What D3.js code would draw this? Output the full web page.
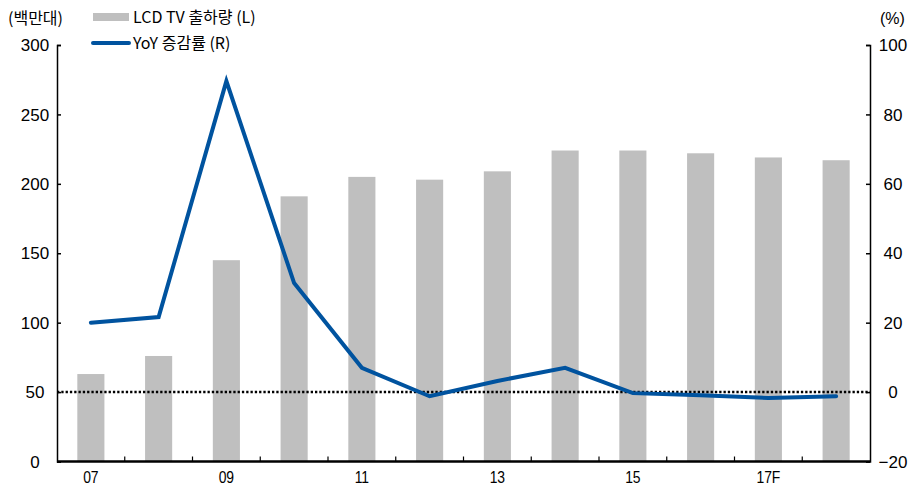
<!DOCTYPE html>
<html>
<head>
<meta charset="utf-8">
<script src="https://cdn.jsdelivr.net/npm/d3@7"></script>
<style>
  body { margin: 0; background: #fff; }
  text { font-family: "Liberation Sans", Arial, "Noto Sans CJK KR", sans-serif; fill: #000; }
  .kr { font-family: "Noto Sans CJK KR", "Liberation Sans", sans-serif; }
</style>
</head>
<body>
<div id="chart"></div>
<script>
const years = ['07', '08', '09', '10', '11', '12', '13', '14', '15', '16', '17F', '18F'];
const xLabels = ['07', '09', '11', '13', '15', '17F'];
const shipments = [63, 76, 145, 191, 205, 203, 209, 224, 224, 222, 219, 217];
const yoy = [20, 21.6, 89.6, 31.4, 7, -1.2, 3.2, 7, -0.3, -0.9, -1.7, -1.2];
const leftTicks = [0, 50, 100, 150, 200, 250, 300];
const rightTicks = [-20, 0, 20, 40, 60, 80, 100];

const svgParams = {
    width: 920,
    height: 488,
    margin: {top: 45, right: 50, bottom: 26, left: 57},
    barColor: '#bfbfbf',
    lineColor: '#00539f'
};

const innerW = svgParams.width - svgParams.margin.left - svgParams.margin.right;
const innerH = svgParams.height - svgParams.margin.top - svgParams.margin.bottom - 0.5;

const svg = d3.select("#chart")
    .append("svg")
    .attr("width", svgParams.width)
    .attr("height", svgParams.height);

const g = svg.append("g")
    .attr("transform", `translate(${svgParams.margin.left},${svgParams.margin.top})`);

const x = d3.scaleBand().domain(years).range([0, innerW]).paddingInner(0.6).paddingOuter(0.3);
const xPoint = d => x(d) + x.bandwidth() / 2;
const yL = d3.scaleLinear().domain([0, 300]).range([innerH, 0]);
const yR = d3.scaleLinear().domain([-20, 100]).range([innerH, 0]);

// bars
g.selectAll(".bar")
    .data(years)
    .enter().append("rect")
    .attr("x", d => x(d))
    .attr("y", (d, i) => yL(shipments[i]))
    .attr("width", x.bandwidth())
    .attr("height", (d, i) => innerH - yL(shipments[i]))
    .attr("fill", svgParams.barColor);

// dotted zero line
g.append("line")
    .attr("x1", 0).attr("x2", innerW)
    .attr("y1", yR(0)).attr("y2", yR(0))
    .attr("stroke", "#000")
    .attr("stroke-width", 2.5)
    .attr("stroke-dasharray", "2.3,2");

// YoY line
const line = d3.line()
    .x((d, i) => xPoint(years[i]))
    .y(d => yR(d));

g.append("path")
    .datum(yoy)
    .attr("d", line)
    .attr("fill", "none")
    .attr("stroke", svgParams.lineColor)
    .attr("stroke-width", 4)
    .attr("stroke-linecap", "round")
    .attr("stroke-linejoin", "miter");

// left axis
const leftAxis = g.append("g")
    .call(d3.axisRight(yL).tickValues(leftTicks).tickSize(4).tickFormat(""));
leftAxis.select(".domain").attr("stroke-width", 1.5);
leftAxis.selectAll(".tick line").attr("stroke-width", 1.5);

leftTicks.forEach(t => {
    g.append("text")
        .attr("x", -22)
        .attr("y", yL(t))
        .attr("dy", "0.36em")
        .attr("text-anchor", "middle")
        .style("font-size", "17px")
        .text(t);
});

// right axis
const rightAxis = g.append("g")
    .attr("transform", `translate(${innerW},0)`)
    .call(d3.axisLeft(yR).tickValues(rightTicks).tickSize(4).tickFormat(""));
rightAxis.select(".domain").attr("stroke-width", 1.5);
rightAxis.selectAll(".tick line").attr("stroke-width", 1.5);

rightTicks.forEach(t => {
    g.append("text")
        .attr("x", innerW + 23)
        .attr("y", yR(t))
        .attr("dy", "0.36em")
        .attr("text-anchor", "middle")
        .style("font-size", "17px")
        .text(t < 0 ? "\u2212" + Math.abs(t) : t);
});

// bottom axis
g.append("line")
    .attr("x1", 0).attr("x2", innerW)
    .attr("y1", innerH).attr("y2", innerH)
    .attr("stroke", "#000")
    .attr("stroke-width", 2.5);

const boundaries = years.slice(1).map(d => x(d) - x.step() * x.paddingInner() / 2);
g.selectAll(".xtick")
    .data(boundaries)
    .enter().append("line")
    .attr("x1", d => d).attr("x2", d => d)
    .attr("y1", innerH).attr("y2", innerH - 5)
    .attr("stroke", "#000")
    .attr("stroke-width", 1.2);

// x labels, squeezed a little to look condensed
g.selectAll(".xlabel")
    .data(xLabels)
    .enter().append("text")
    .attr("transform", d => `translate(${xPoint(d)},${innerH + 21.5}) scale(0.82,1)`)
    .attr("text-anchor", "middle")
    .style("font-size", "17px")
    .text(d => d);

// unit labels
svg.append("text")
    .attr("class", "kr")
    .attr("x", 8).attr("y", 24)
    .style("font-size", "16px")
    .text("(백만대)");

svg.append("text")
    .attr("x", 880).attr("y", 24)
    .style("font-size", "16px")
    .text("(%)");

// legend
svg.append("rect")
    .attr("x", 93).attr("y", 13)
    .attr("width", 36).attr("height", 8)
    .attr("fill", svgParams.barColor);

svg.append("text")
    .attr("class", "kr")
    .attr("x", 133).attr("y", 23)
    .style("font-size", "16px")
    .text("LCD TV 출하량 (L)");

svg.append("line")
    .attr("x1", 93).attr("x2", 129)
    .attr("y1", 43).attr("y2", 43)
    .attr("stroke", svgParams.lineColor)
    .attr("stroke-width", 4)
    .attr("stroke-linecap", "round");

svg.append("text")
    .attr("class", "kr")
    .attr("x", 133).attr("y", 49)
    .style("font-size", "16px")
    .text("YoY 증감률 (R)");
</script>
</body>
</html>
